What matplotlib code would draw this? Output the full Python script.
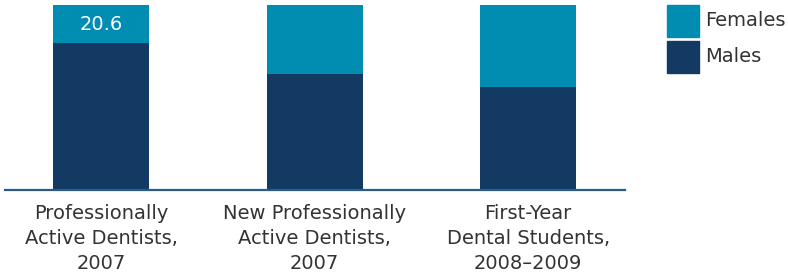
import matplotlib.pyplot as plt
from matplotlib.patches import Rectangle

# Data (percent)
categories = ['Professionally\nActive Dentists,\n2007',
              'New Professionally\nActive Dentists,\n2007',
              'First-Year\nDental Students,\n2008\u20132009']
males = [79.4, 62.9, 55.7]
females = [20.6, 37.1, 44.3]
labelled = [True, False, False]

c_fem = '#008db1'
c_male = '#133a62'
c_text = '#333333'

W, H = 788, 275
fig = plt.figure(figsize=(W / 100, H / 100), dpi=100)

def fx(px):
    return px / W

def fy(py):
    return 1 - py / H

ax = fig.add_axes([fx(5), fy(190), fx(625) - fx(5), fy(5) - fy(190)])
x = range(len(categories))
ax.bar(x, males, width=0.45, color=c_male, zorder=2)
ax.bar(x, females, width=0.45, bottom=males, color=c_fem, zorder=2)

for i, show in enumerate(labelled):
    if show:
        ax.text(i, males[i] + females[i] / 2, f'{females[i]:.1f}', color='white',
                ha='center', va='center', fontsize=14)

ax.set_xlim(-0.45, 2.454)
ax.set_ylim(0, 100)
for s in ['top', 'right', 'left']:
    ax.spines[s].set_visible(False)
ax.spines['bottom'].set_color('#2b5a88')
ax.spines['bottom'].set_linewidth(1.6)
ax.spines['bottom'].set_zorder(3)
ax.set_yticks([])
ax.set_xticks(list(x))
ax.set_xticklabels(categories, fontsize=14, color=c_text, linespacing=1.4)
ax.tick_params(axis='x', length=0, pad=10)

# legend
fig.add_artist(Rectangle((fx(667), fy(37)), fx(32), fy(5) - fy(37),
                         transform=fig.transFigure, color=c_fem))
fig.add_artist(Rectangle((fx(667), fy(73)), fx(32), fy(41) - fy(73),
                         transform=fig.transFigure, color=c_male))
fig.text(fx(705), fy(21), 'Females', fontsize=14, color=c_text, va='center')
fig.text(fx(705), fy(57), 'Males', fontsize=14, color=c_text, va='center')

fig.savefig('out.png', dpi=100)
